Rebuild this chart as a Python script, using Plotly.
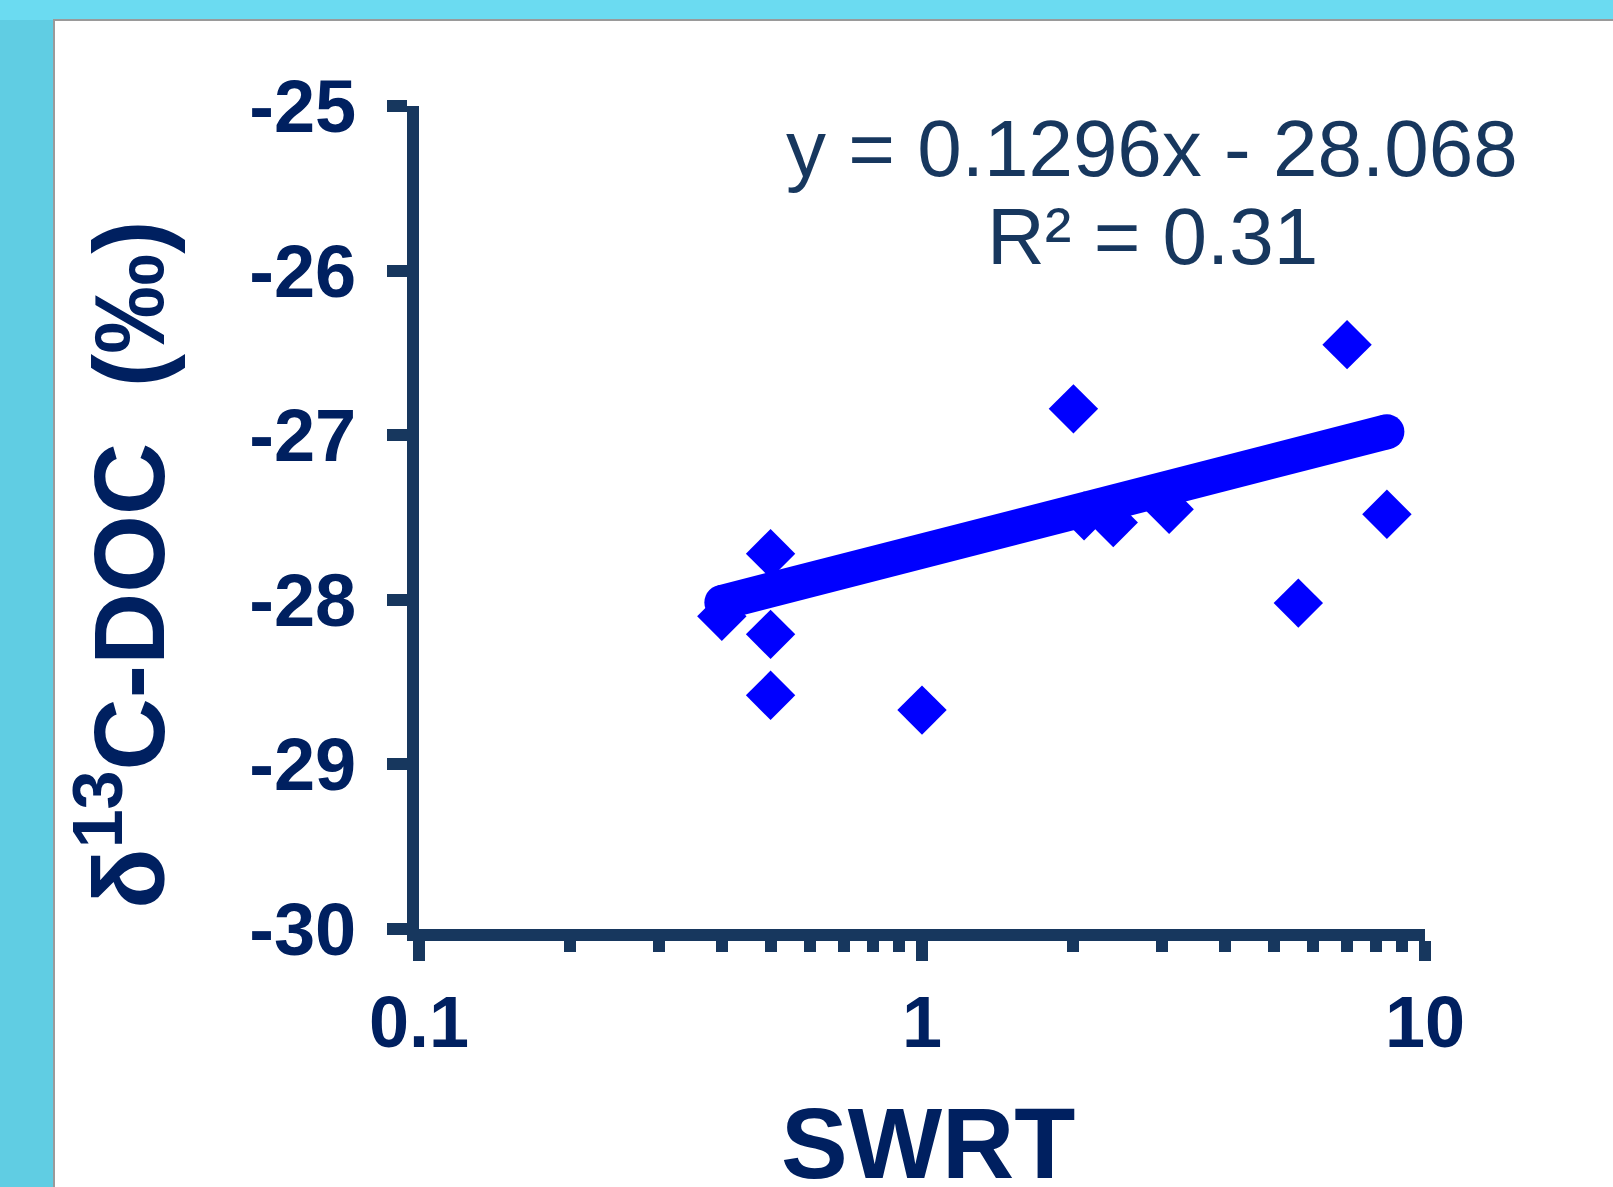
import plotly.graph_objects as go

# ---- data ----
swrt = [0.40, 0.50, 0.50, 0.50, 1.0, 2.0, 2.1, 2.4, 3.1, 5.6, 7.0, 8.4]
d13c = [-28.10, -27.72, -28.21, -28.58, -28.67, -26.84, -27.49, -27.53, -27.45, -28.02, -26.45, -27.48]

slope = 0.1296
intercept = -28.068
r2 = 0.31

x_ticks = [0.1, 1, 10]
x_ticktext = ["0.1", "1", "10"]
y_ticks = [-30, -29, -28, -27, -26, -25]
y_ticktext = ["-30", "-29", "-28", "-27", "-26", "-25"]

eq_line1 = "y = 0.1296x - 28.068"
eq_line2 = "R² = 0.31"
x_title = "SWRT"
y_title = "δ<sup>13</sup>C-DOC  (‰)"

# trend line endpoints from the fitted equation
tx = [min(swrt), max(swrt)]
ty = [slope * v + intercept for v in tx]

AXIS = "#17375E"
TEXT = "#002060"
BLUE = "#0000FF"
FONT = "Liberation Sans, Arial, sans-serif"

W, H = 1613, 1187
L, R, T, B = 419, 188, 106, 258
pw = W - L - R
ph = H - T - B


def px2paper_x(px):
    return (px - L) / pw


def px2paper_y(py):
    return (H - B - py) / ph


fig = go.Figure()
fig.add_trace(go.Scatter(
    x=swrt, y=d13c, mode="markers",
    marker=dict(symbol="diamond", size=38, color=BLUE, line=dict(width=0)),
    showlegend=False, cliponaxis=False,
))
fig.add_trace(go.Scatter(
    x=tx, y=ty, mode="lines+markers",
    line=dict(color=BLUE, width=35),
    marker=dict(symbol="circle", size=35, color=BLUE, line=dict(width=0)),
    showlegend=False, cliponaxis=False,
))

fig.update_layout(
    width=W, height=H,
    margin=dict(l=L, r=R, t=T, b=B, autoexpand=False),
    paper_bgcolor="#60CDE3",
    plot_bgcolor="rgba(0,0,0,0)",
    font=dict(family=FONT, color=TEXT),
    xaxis=dict(
        type="log", range=[-1, 1],
        tickvals=x_ticks, ticktext=x_ticktext,
        showline=True, linecolor=AXIS, linewidth=12,
        ticks="outside", ticklen=20, tickwidth=12, tickcolor=AXIS,
        minor=dict(ticks="outside", ticklen=11, tickwidth=12, tickcolor=AXIS, dtick="D1", showgrid=False),
        showgrid=False, zeroline=False,
        tickfont=dict(size=72, weight="bold", color=TEXT, family=FONT),
    ),
    yaxis=dict(
        range=[-30, -25],
        tickvals=y_ticks, ticktext=y_ticktext,
        showline=True, linecolor=AXIS, linewidth=12,
        ticks="outside", ticklen=20, tickwidth=12, tickcolor=AXIS,
        ticklabelstandoff=16,
        showgrid=False, zeroline=False,
        tickfont=dict(size=74, weight="bold", color=TEXT, family=FONT),
    ),
    shapes=[
        dict(type="rect", xref="paper", yref="paper", layer="below",
             x0=px2paper_x(0), x1=px2paper_x(W + 10), y0=px2paper_y(-10), y1=px2paper_y(20),
             fillcolor="#6BDBF1", line=dict(width=0)),
        dict(type="rect", xref="paper", yref="paper", layer="below",
             x0=px2paper_x(54), x1=px2paper_x(W + 20), y0=px2paper_y(H + 20), y1=px2paper_y(20),
             fillcolor="white", line=dict(color="#9A9A9A", width=2)),
    ],
    annotations=[
        dict(text=eq_line1, xref="paper", yref="paper", x=px2paper_x(1152), y=px2paper_y(148),
             xanchor="center", yanchor="middle", showarrow=False,
             font=dict(size=80, color=AXIS, family=FONT)),
        dict(text=eq_line2, xref="paper", yref="paper", x=px2paper_x(1152), y=px2paper_y(236),
             xanchor="center", yanchor="middle", showarrow=False,
             font=dict(size=80, color=AXIS, family=FONT)),
        dict(text=x_title, xref="paper", yref="paper", x=px2paper_x(928), y=px2paper_y(1143),
             xanchor="center", yanchor="middle", showarrow=False,
             font=dict(size=100, weight="bold", color=TEXT, family=FONT)),
        dict(text=y_title, xref="paper", yref="paper", x=px2paper_x(122), y=px2paper_y(565),
             xanchor="center", yanchor="middle", showarrow=False, textangle=-90,
             font=dict(size=100, weight="bold", color=TEXT, family=FONT)),
    ],
)

fig.write_html("out.html")
